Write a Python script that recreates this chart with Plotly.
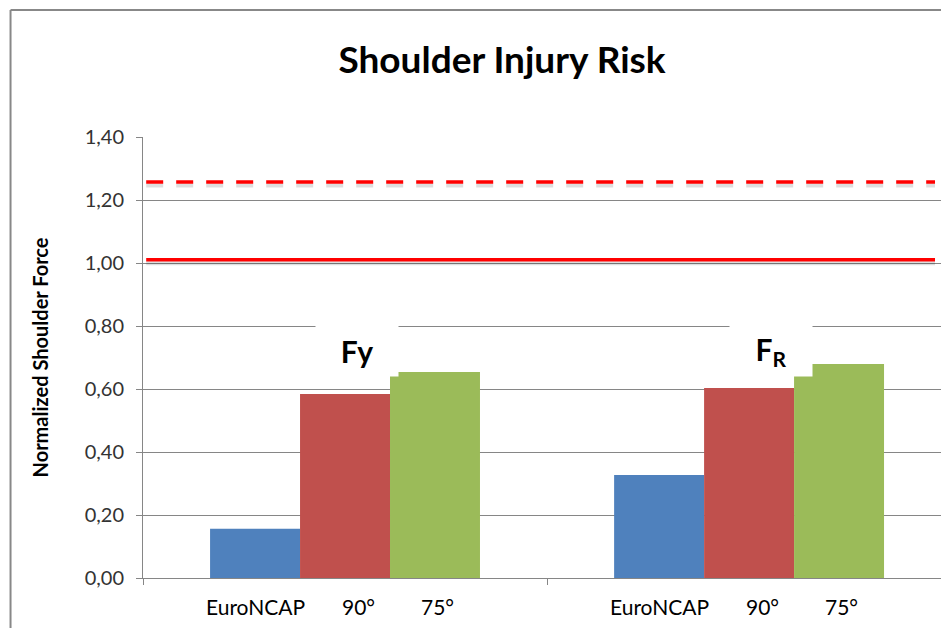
import plotly.graph_objects as go

groups = ["Fy", "FR"]
group_labels = ["Fy", "F<sub>R</sub>"]
series_names = ["EuroNCAP", "90°", "75°"]
euroncap = [0.156, 0.327]
deg90 = [0.584, 0.603]
deg75 = [0.654, 0.679]
limit_solid = 1.01
limit_dashed = 1.257
y_ticks = [0.0, 0.2, 0.4, 0.6, 0.8, 1.0, 1.2, 1.4]
y_tick_text = ["0,00", "0,20", "0,40", "0,60", "0,80", "1,00", "1,20", "1,40"]

colors = ["#4F81BD", "#C0504D", "#9BBB59"]
FONT = "Lato"

fig = go.Figure()
for name, vals, c in zip(series_names, [euroncap, deg90, deg75], colors):
    fig.add_trace(go.Bar(x=groups, y=vals, name=name, marker=dict(color=c, line=dict(width=0))))

# bar labels under each bar
shifts = [-90, 13, 92]
for g in groups:
    for name, s in zip(series_names, shifts):
        fig.add_annotation(x=g, y=0, xref="x", yref="y", text=name, showarrow=False,
                           xshift=s, yshift=-28, font=dict(family=FONT, size=21, color="#000000"))

# group labels with white boxes
for g, lab, xs in zip(groups, group_labels, [12, 22]):
    fig.add_annotation(x=g, y=0.7206, xref="x", yref="y", text="<b>%s</b>" % lab, showarrow=False,
                       xshift=xs, bgcolor="white", width=80, height=48, borderpad=1,
                       font=dict(family=FONT, size=30, color="#000000"))

# limit lines (with faint shadow)
for yv, dash in [(limit_solid, "solid"), (limit_dashed, "17px,13px")]:
    fig.add_shape(type="line", xref="paper", yref="y", x0=0.004, x1=0.9925, y0=yv - 0.011, y1=yv - 0.011,
                  line=dict(color="rgba(0,0,0,0.13)", width=4, dash=dash), layer="above")
    fig.add_shape(type="line", xref="paper", yref="y", x0=0.004, x1=0.9925, y0=yv, y1=yv,
                  line=dict(color="#FF0000", width=3.5, dash=dash), layer="above")

# outer frame (left and top)
fig.add_shape(type="line", xref="paper", yref="paper", x0=-0.166, x1=1.0, y0=1.288, y1=1.288,
              line=dict(color="#888888", width=2))
fig.add_shape(type="line", xref="paper", yref="paper", x0=-0.166, x1=-0.166, y0=-0.2, y1=1.288,
              line=dict(color="#888888", width=2))

fig.update_layout(
    width=933, height=620,
    margin=dict(l=135, r=0, t=129, b=50),
    paper_bgcolor="white", plot_bgcolor="white",
    barmode="group", bargap=0.332, bargroupgap=0,
    showlegend=False,
    title=dict(text="<b>Shoulder Injury Risk</b>", x=0.5295, xanchor="center", y=0.916, yanchor="middle",
               font=dict(family=FONT, size=37, color="#000000")),
    font=dict(family=FONT),
)
fig.update_xaxes(showticklabels=False, tickson="boundaries", ticks="outside", ticklen=6,
                 tickcolor="#868686", showline=True, linecolor="#868686", linewidth=1,
                 showgrid=False, range=[-0.5, 1.475])
fig.update_yaxes(range=[0, 1.4], tickvals=y_ticks, ticktext=y_tick_text, ticks="outside", ticklen=6,
                 tickcolor="#868686", showline=True, linecolor="#868686", linewidth=1,
                 showgrid=True, gridcolor="#868686", gridwidth=1, zeroline=False,
                 ticklabelstandoff=8,
                 tickfont=dict(family=FONT, size=20, color="#333333"),
                 title=dict(text="<b>Normalized Shoulder Force</b>", standoff=30,
                            font=dict(family=FONT, size=20, color="#000000")))

fig.write_html("out.html")
